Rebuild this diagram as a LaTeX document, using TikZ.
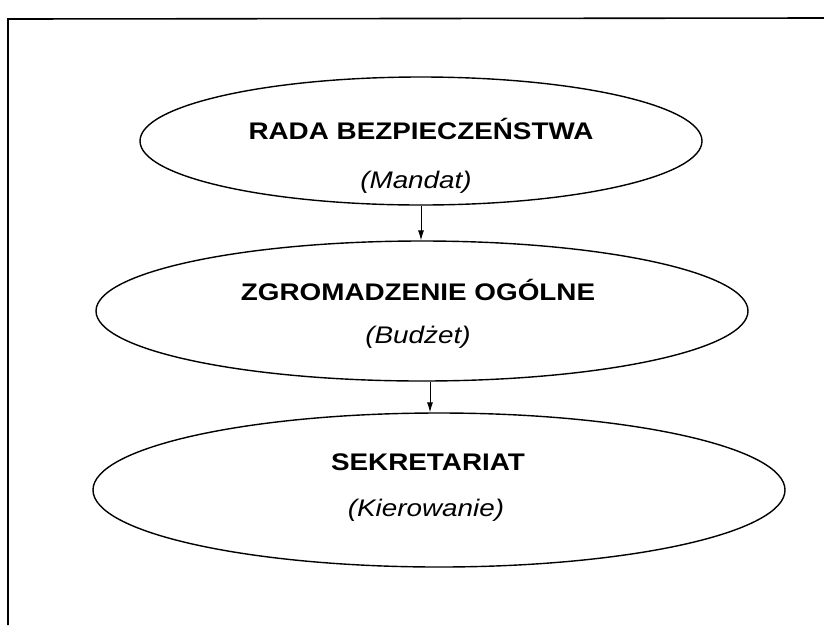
\documentclass[tikz,border=0pt]{standalone}
\usepackage{fontspec}
\setmainfont{Liberation Sans}[FakeStretch=1.16]
\usetikzlibrary{shapes.geometric,arrows.meta}
\begin{document}
\begin{tikzpicture}[x=1pt,y=-1pt,
  oval/.style={draw=black, line width=1.4pt, ellipse, inner sep=0pt},
  ttl/.style={font=\fontsize{24}{28}\selectfont\bfseries, anchor=base, inner sep=0pt},
  sub/.style={font=\fontsize{24}{28}\selectfont\itshape, anchor=base, inner sep=0pt},
  arr/.style={draw=black, line width=0.9pt, -{Latex[length=10pt,width=6pt]}},
  frameline/.style={line width=1.6pt}]
\useasboundingbox (0,0) rectangle (824,625);
\draw[frameline] (824,18) -- (8,19) -- (8,625);
\node[oval, minimum width=562pt, minimum height=128pt] (e1) at (421,141) {};
\node[oval, minimum width=652pt, minimum height=140pt] (e2) at (422,311) {};
\node[oval, minimum width=692pt, minimum height=154pt] (e3) at (439,490) {};
\node[ttl] (t1) at (421,139) {RADA BEZPIECZEŃSTWA};
\node[sub] (s1) at (416,188) {(Mandat)};
\node[ttl] (t2) at (418,300) {ZGROMADZENIE OGÓLNE};
\node[sub] (s2) at (418,343) {(Budżet)};
\node[ttl] (t3) at (428,470) {SEKRETARIAT};
\node[sub] (s3) at (426,516) {(Kierowanie)};
\draw[arr] (e1.south) -- (e1.south |- e2.north);
\draw[arr] ([xshift=8pt]e2.south) -- ([xshift=8pt]e2.south |- e3.north);
\end{tikzpicture}
\end{document}
